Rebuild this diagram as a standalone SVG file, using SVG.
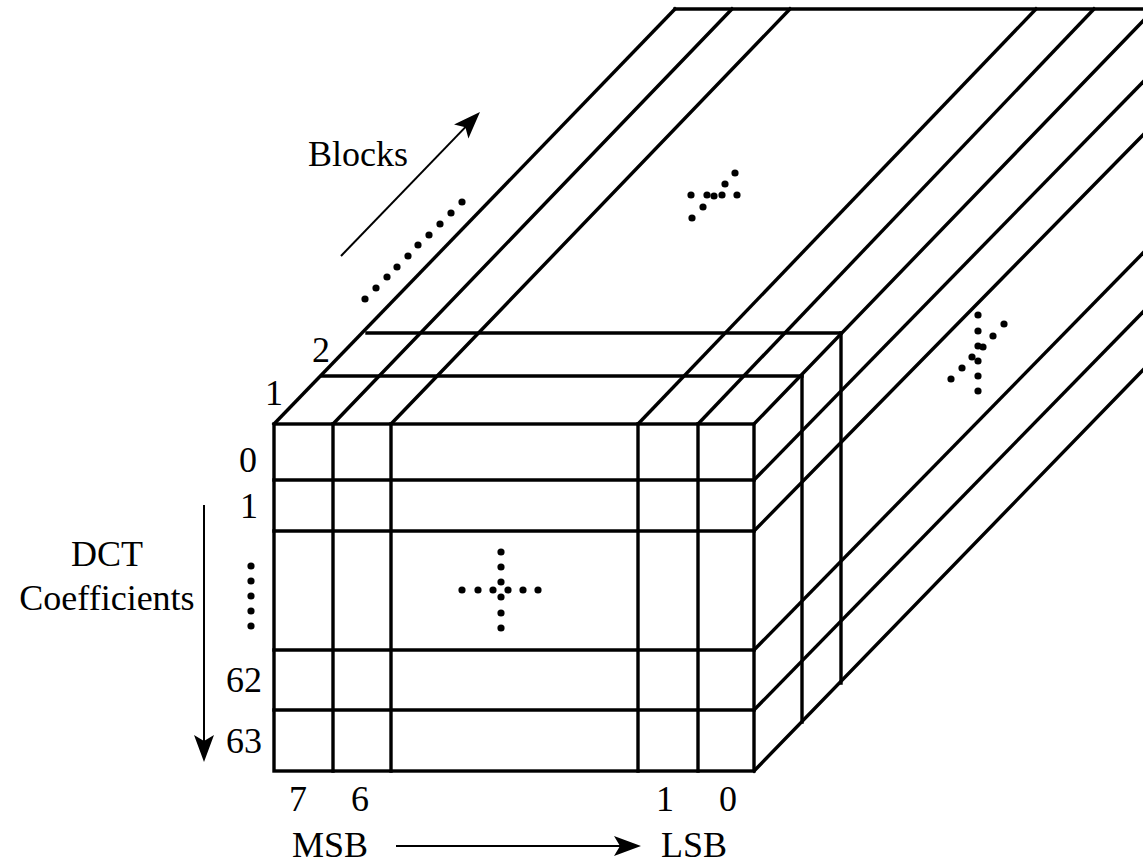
<svg xmlns="http://www.w3.org/2000/svg" width="1143" height="863" viewBox="0 0 1143 863">
<style>
.ln{stroke:#000;stroke-width:3.4;fill:none;stroke-linecap:square}
.ar{stroke:#000;stroke-width:2;fill:none}
.t{font-family:"Liberation Serif","Times New Roman",serif;font-size:36px;fill:#000}
.m{text-anchor:middle}
.d{fill:#000}
</style>
<defs>
<marker id="ah" markerUnits="userSpaceOnUse" viewBox="-28 -11 29 22" markerWidth="29" markerHeight="22" refX="-4" refY="0" orient="auto">
<path d="M0,0 L-27,-10 L-21,0 L-27,10 Z" fill="#000"/>
</marker>
</defs>
<rect width="1143" height="863" fill="#fff"/>
<g id="top-face">
<line class="ln" x1="274" y1="424" x2="675" y2="9"/>
<line class="ln" x1="333" y1="424" x2="732" y2="9"/>
<line class="ln" x1="391" y1="424" x2="790" y2="9"/>
<line class="ln" x1="638" y1="424" x2="1036" y2="9"/>
<line class="ln" x1="698" y1="424" x2="1094" y2="9"/>
<line class="ln" x1="675" y1="9" x2="1150" y2="9"/>
<line class="ln" x1="322" y1="376" x2="802" y2="376"/>
<line class="ln" x1="367" y1="333" x2="841" y2="333"/>
</g>
<g id="right-face">
<line class="ln" x1="754" y1="424" x2="1143" y2="21"/>
<line class="ln" x1="754" y1="480" x2="1143" y2="82"/>
<line class="ln" x1="754" y1="531" x2="1143" y2="135"/>
<line class="ln" x1="754" y1="650" x2="1143" y2="253"/>
<line class="ln" x1="754" y1="710" x2="1143" y2="312"/>
<line class="ln" x1="754" y1="771" x2="1143" y2="370"/>
<line class="ln" x1="802" y1="376" x2="802" y2="722"/>
<line class="ln" x1="841" y1="333" x2="841" y2="683"/>
</g>
<g id="front-face">
<rect class="ln" x="274" y="424" width="480" height="347"/>
<line class="ln" x1="274" y1="480" x2="754" y2="480"/>
<line class="ln" x1="274" y1="531" x2="754" y2="531"/>
<line class="ln" x1="274" y1="650" x2="754" y2="650"/>
<line class="ln" x1="274" y1="710" x2="754" y2="710"/>
<line class="ln" x1="333" y1="424" x2="333" y2="771"/>
<line class="ln" x1="391" y1="424" x2="391" y2="771"/>
<line class="ln" x1="638" y1="424" x2="638" y2="771"/>
<line class="ln" x1="698" y1="424" x2="698" y2="771"/>
</g>
<g id="dots">
<g class="d">
<circle cx="365" cy="299" r="3.6"/><circle cx="376" cy="288" r="3.6"/><circle cx="387" cy="277" r="3.6"/><circle cx="397" cy="267" r="3.6"/><circle cx="408" cy="256" r="3.6"/><circle cx="418" cy="245" r="3.6"/><circle cx="429" cy="235" r="3.6"/><circle cx="440" cy="224" r="3.6"/><circle cx="451" cy="213" r="3.6"/><circle cx="462" cy="202" r="3.6"/>
<circle cx="251" cy="566" r="3.6"/><circle cx="251" cy="581" r="3.6"/><circle cx="251" cy="596" r="3.6"/><circle cx="251" cy="611" r="3.6"/><circle cx="251" cy="626" r="3.6"/>
<circle cx="501" cy="552" r="3.6"/><circle cx="501" cy="567" r="3.6"/><circle cx="501" cy="582" r="3.6"/><circle cx="501" cy="597" r="3.6"/><circle cx="501" cy="613" r="3.6"/><circle cx="501" cy="628" r="3.6"/>
<circle cx="462" cy="590" r="3.6"/><circle cx="478" cy="590" r="3.6"/><circle cx="493" cy="590" r="3.6"/><circle cx="508" cy="590" r="3.6"/><circle cx="523" cy="590" r="3.6"/><circle cx="538" cy="590" r="3.6"/>
<circle cx="691" cy="195" r="3.6"/><circle cx="707" cy="195" r="3.6"/><circle cx="714" cy="196" r="3.6"/><circle cx="722" cy="195" r="3.6"/><circle cx="737" cy="195" r="3.6"/><circle cx="725" cy="184" r="3.6"/><circle cx="735" cy="173" r="3.6"/><circle cx="703" cy="207" r="3.6"/><circle cx="692" cy="218" r="3.6"/>
<circle cx="978" cy="315" r="3.6"/><circle cx="978" cy="331" r="3.6"/><circle cx="978" cy="346" r="3.6"/><circle cx="983" cy="347" r="3.6"/><circle cx="978" cy="361" r="3.6"/><circle cx="978" cy="376" r="3.6"/><circle cx="978" cy="391" r="3.6"/><circle cx="1004" cy="324" r="3.6"/><circle cx="993" cy="336" r="3.6"/><circle cx="972" cy="357" r="3.6"/><circle cx="962" cy="368" r="3.6"/><circle cx="951" cy="379" r="3.6"/>
</g>
</g>
<g id="connectors">
<line class="ar" x1="341" y1="256" x2="477.2" y2="114.9" marker-end="url(#ah)"/>
<line class="ar" x1="204" y1="505" x2="204" y2="758" marker-end="url(#ah)"/>
<line class="ar" x1="396" y1="846" x2="637" y2="846" marker-end="url(#ah)"/>
</g>
<g id="labels">
<text class="t" x="308" y="166">Blocks</text>
<text class="t m" x="274" y="405">1</text>
<text class="t m" x="321" y="362">2</text>
<text class="t m" x="248" y="472">0</text>
<text class="t m" x="249" y="518">1</text>
<text class="t m" x="244" y="692">62</text>
<text class="t m" x="244" y="753">63</text>
<text class="t m" x="107" y="566">DCT</text>
<text class="t m" x="107" y="610">Coefficients</text>
<text class="t m" x="298" y="811">7</text>
<text class="t m" x="360" y="811">6</text>
<text class="t m" x="665" y="811">1</text>
<text class="t m" x="728" y="811">0</text>
<text class="t" x="292" y="857">MSB</text>
<text class="t" x="661" y="857">LSB</text>
</g>
</svg>
